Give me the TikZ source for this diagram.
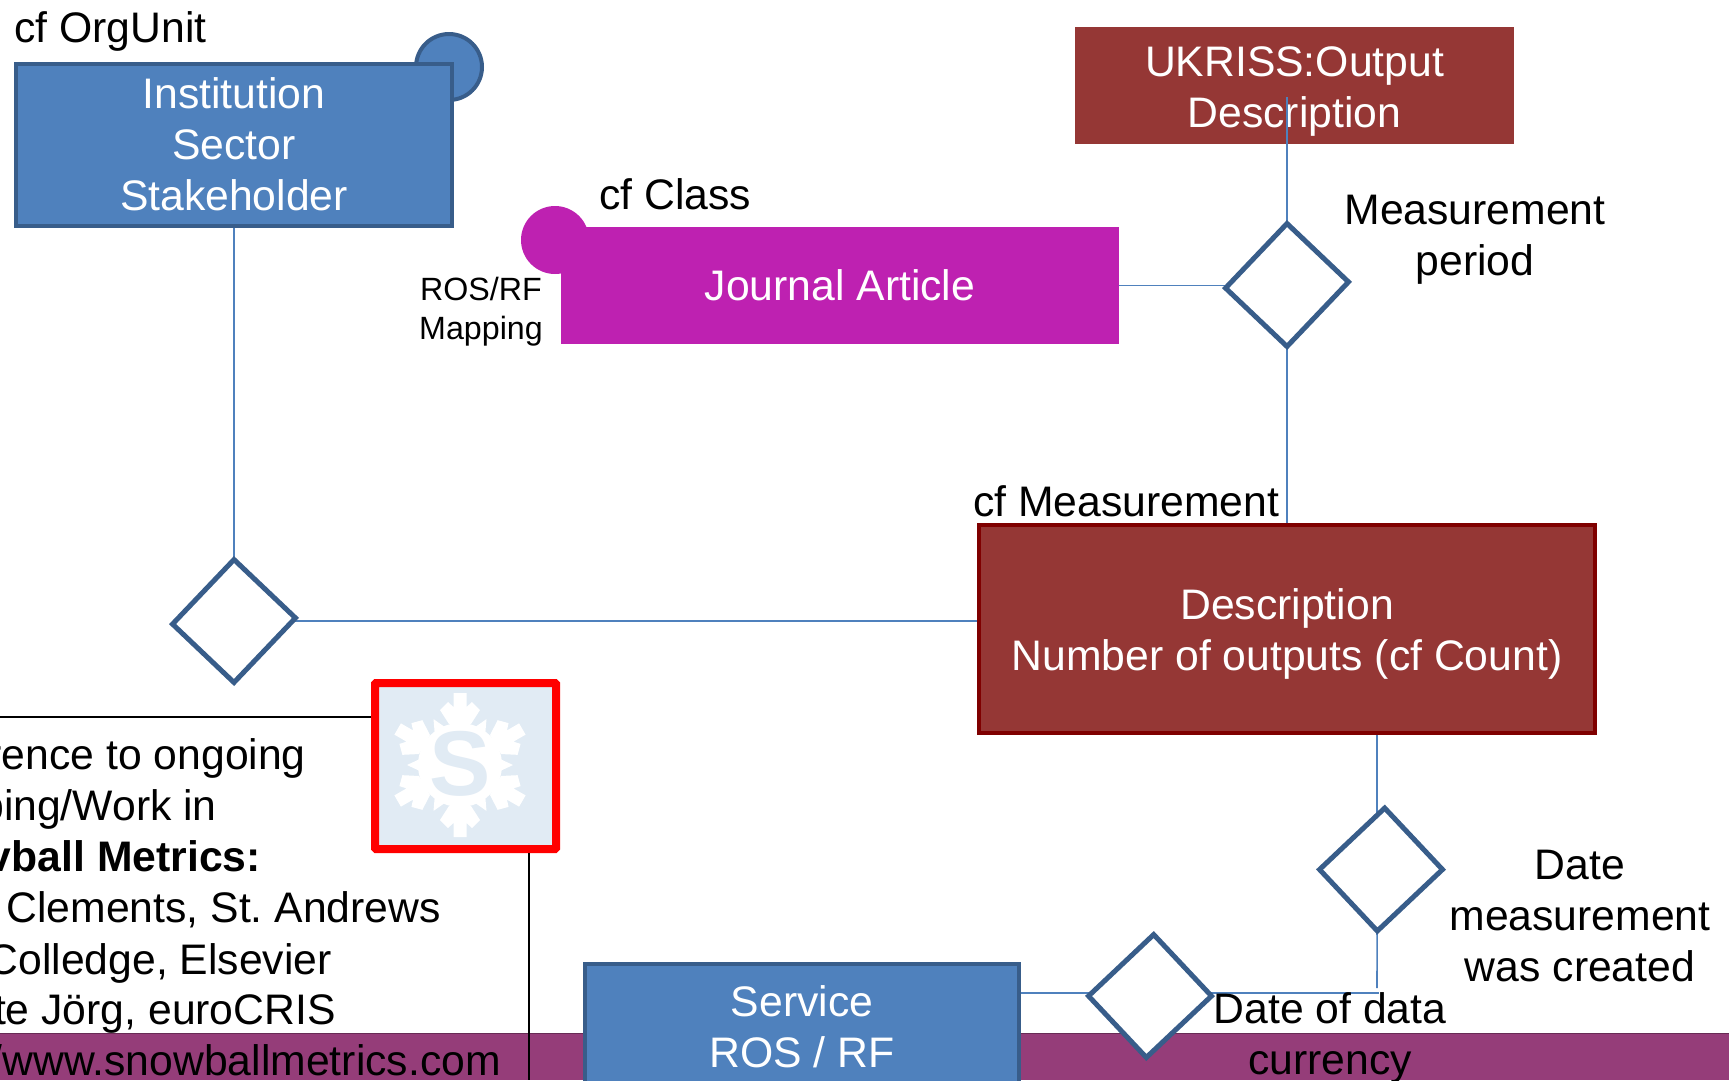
\documentclass[tikz,border=0pt]{standalone}
\usepackage{fontspec}
\setmainfont{Liberation Sans}
\usetikzlibrary{shapes.geometric,backgrounds}
\definecolor{boxblue}{HTML}{4F81BD}
\definecolor{edgeblue}{HTML}{385D8A}
\definecolor{boxred}{HTML}{953735}
\definecolor{edgered}{HTML}{7F0000}
\definecolor{boxpink}{HTML}{BE21B1}
\definecolor{bandpurple}{HTML}{953D79}
\definecolor{snowbg}{HTML}{E1EBF4}
\tikzset{
  bigtext/.style={font=\fontsize{42.7}{51}\selectfont,inner sep=0pt},
  smalltext/.style={font=\fontsize{32.2}{39}\selectfont,inner sep=0pt},
  entity/.style={bigtext,align=center,text=white,draw=edgeblue,fill=boxblue,line width=4pt},
  relation/.style={shape=diamond,draw=edgeblue,fill=white,line width=5pt,inner sep=0pt,minimum width=125pt,minimum height=125pt},
  link/.style={draw=boxblue,line width=1.6pt},
  noteline/.style={draw=black,line width=1.6pt}
}
\begin{document}
\frenchspacing
\begin{tikzpicture}[x=1pt,y=-1pt]
        \useasboundingbox (0,0) rectangle (1729,1080);
        % balls behind the boxes
        \draw[draw=edgeblue,fill=boxblue,line width=4pt] (449,67) circle(33);
        \fill[boxpink] (555,240) circle(34);
        % boxes
        \node[entity,minimum width=436pt,minimum height=162pt] (institution) at (234,144.5) {Institution\\Sector\\Stakeholder};
        \node[bigtext,align=center,text=white,fill=boxpink,minimum width=558pt,minimum height=117pt] (article) at (840,285.5) {Journal Article};
        \node[bigtext,align=center,text=white,fill=boxred,minimum width=439pt,minimum height=117pt] (output) at (1294.5,85.5) {\rule{0pt}{41pt}UKRISS:Output\\Description};
        \node[bigtext,align=center,text=white,fill=boxred,draw=edgered,line width=4pt,minimum width=616pt,minimum height=208pt] (description) at (1287,629) {\rule{0pt}{41pt}Description\\Number of outputs (cf Count)};
        \node[entity,minimum width=434pt,minimum height=126pt] (service) at (802,1027) {Service\\ROS / RF};
        % diamonds
        \node[relation,yslant=0.05,transform shape] (period) at (1287,285) {};
        \node[relation,yslant=0.05,transform shape] (institutionlink) at (234,621) {};
        \node[relation,xslant=0.06,transform shape] (created) at (1381,869.5) {};
        \node[relation,xslant=0.06,transform shape] (currency) at (1150,996) {};
        % snowball logo
        \node[draw=red,fill=snowbg,line width=8pt,rounded corners=1pt,minimum width=181pt,minimum height=166pt] (snowbox) at (465.5,766) {};
        \foreach \a in {30,90,150,210,270,330} {
          \begin{scope}[shift={(460,765)},rotate=\a]
            \fill[white] (41,-11) -- (55,-20) -- (63,-12) -- (58,-6.5) -- (72,-6.5) -- (72,6.5) -- (58,6.5) -- (63,12) -- (55,20) -- (41,11) -- cycle;
          \end{scope}
        }
        \foreach \a in {0,60,120,180,240,300} {
          \begin{scope}[shift={(460,765)},rotate=\a]
            \fill[white] (38,-7) -- (53,0) -- (38,7) -- cycle;
          \end{scope}
        }
        \fill[white] (460,765) circle(42);
        \node[inner sep=0pt,text=snowbg,font=\fontsize{92}{92}\selectfont\bfseries] (snowletter) at (460,764) {S};
        % free ends
        \coordinate (noteleft) at (0,717);
        \coordinate (notedown) at (529,1080);
        \coordinate (outputend) at (1287,97);
        \coordinate (createdend) at (1377,988);
        \coordinate (currencyend) at (1379,993);
        % connectors and band go behind the nodes
        \begin{scope}[on background layer]
        \fill[bandpurple] (0,1033) rectangle (1729,1080);
        \draw[bandpurple!70!black,line width=1pt] (0,1033) -- (1729,1033);
        \end{scope}
        \begin{scope}[on background layer]
        \draw[link] (institution.south) -- (institutionlink.center);
        \draw[link] (institutionlink.center) -- (institutionlink.center -| description.west);
        \draw[link] (article.east) -- (article.east -| period.center);
        \draw[link] (outputend) -- (period.center);
        \draw[link] (period.center) -- (description.north);
        \draw[link] (description.south -| created.south) -- (created.south);
        \draw[link] (created.south) -- (createdend);
        \draw[link] (service.east |- currencyend) -- (currency.center |- currencyend);
        \draw[link] (currency.center |- currencyend) -- (currencyend);
        \end{scope}
        \draw[link] (outputend) -- (output.south -| outputend);
        \draw[noteline] (noteleft) -- (noteleft -| snowbox.west);
        \draw[noteline] (snowbox.south -| notedown) -- (notedown);
        % labels
        \node[bigtext,anchor=base west] (orgunitlabel) at (14,42) {cf OrgUnit};
        \node[bigtext,anchor=base west] (classlabel) at (599,209) {cf Class};
        \node[bigtext,anchor=base west] (measurelabel) at (973,516) {cf Measurement};
        \node[smalltext,align=center] (mappinglabel) at (481,312) {ROS/RF\\Mapping};
        \node[bigtext,align=center] (periodlabel) at (1475,240) {Measurement\\period};
        \node[bigtext,align=center] (createdlabel) at (1580,916) {Date\\measurement\\was created};
        \node[bigtext,align=center] (currencylabel) at (1330,1038) {Date of data\\currency};
        % note, cut off by the left edge
        \node[bigtext,anchor=base east] (noteone) at (306,769) {rence to ongoing};
        \node[bigtext,anchor=base east] (notetwo) at (217,820) {ping/Work in};
        \node[bigtext,anchor=base east,font=\fontsize{42.7}{51}\selectfont\bfseries] (notethree) at (261,871) {vball Metrics:};
        \node[bigtext,anchor=base east] (notefour) at (441,922) {Clements, St. Andrews};
        \node[bigtext,anchor=base east] (notefive) at (332,974) {Colledge, Elsevier};
        \node[bigtext,anchor=base east] (notesix) at (336,1024) {te Jörg, euroCRIS};
        \node[bigtext,anchor=base east] (noteseven) at (501,1075) {/www.snowballmetrics.com};
      \end{tikzpicture}
\end{document}
